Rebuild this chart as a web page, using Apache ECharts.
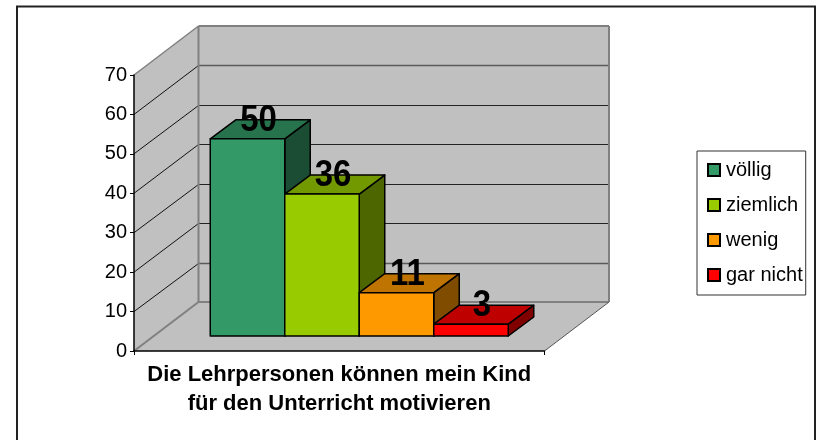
<!DOCTYPE html>
<html><head><meta charset="utf-8">
<style>html,body{margin:0;padding:0;background:#fff}#c{width:819px;height:440px}</style>
<script src="https://cdn.jsdelivr.net/npm/echarts@6/dist/echarts.min.js"></script>
</head><body><div id="c"></div>
<script>
const categories = ['Die Lehrpersonen können mein Kind\nfür den Unterricht motivieren'];
const seriesNames = ['völlig', 'ziemlich', 'wenig', 'gar nicht'];
const seriesValues = [50, 36, 11, 3];
const faceColors = ['#339966', '#99CC00', '#FF9900', '#FF0000'];
const topColors = ['#26734D', '#739900', '#BF7300', '#BF0000'];
const sideColors = ['#1A4D33', '#4D6600', '#804D00', '#800000'];
const yTicks = [10, 20, 30, 40, 50, 60];
const softTicks = [10, 60];

const FONT = '"Liberation Sans", Arial, sans-serif';
const WALL_DX = 64.5, WALL_DY = -49;
const BAR_W = 74.5, BAR_SHIFT_X = 20, BAR_SHIFT_Y = -15, BAR_DX = 25.5, BAR_DY = -19;

const chart = echarts.init(document.getElementById('c'), null, {renderer: 'canvas'});

function wallItem(params, api) {
  const cs = params.coordSys;
  const l = cs.x, r = cs.x + cs.width, t = cs.y, b = cs.y + cs.height;
  const poly = (pts, fill, stroke, w) => ({type: 'polygon', shape: {points: pts},
    style: {fill: fill, stroke: stroke || null, lineWidth: w || 0}});
  const line = (a, c, col, w) => ({type: 'line', shape: {x1: a[0], y1: a[1], x2: c[0], y2: c[1]},
    style: {stroke: col, lineWidth: w, fill: null}});
  const ch = [
    poly([[l, t], [l + WALL_DX, t + WALL_DY], [l + WALL_DX, b + WALL_DY], [l, b]], '#C0C0C0'),
    poly([[l + WALL_DX, t + WALL_DY], [r + WALL_DX, t + WALL_DY], [r + WALL_DX, b + WALL_DY], [l + WALL_DX, b + WALL_DY]], '#C0C0C0'),
    poly([[l, b], [l + WALL_DX, b + WALL_DY], [r + WALL_DX, b + WALL_DY], [r, b]], '#C0C0C0')
  ];
  yTicks.forEach(v => {
    const y = api.coord([0, v])[1];
    const by = Math.round(y + WALL_DY) + 0.5;
    const soft = softTicks.indexOf(v) >= 0;
    ch.push(line([l, y], [l + WALL_DX, by], '#111', 1));
    ch.push(line([l + WALL_DX, by], [r + WALL_DX, by], soft ? '#5a5a5a' : '#222', soft ? 1.6 : 1));
  });
  ch.push(line([l, t], [l + WALL_DX, t + WALL_DY], '#808080', 1.5));
  ch.push(line([l + WALL_DX, t + WALL_DY], [r + WALL_DX, t + WALL_DY], '#808080', 2));
  ch.push(line([l + WALL_DX, t + WALL_DY], [l + WALL_DX, b + WALL_DY], '#808080', 2));
  ch.push(line([r + WALL_DX, t + WALL_DY], [r + WALL_DX, b + WALL_DY], '#808080', 2));
  ch.push(line([l + WALL_DX, b + WALL_DY], [r + WALL_DX, b + WALL_DY], '#808080', 2));
  ch.push(line([l, b], [l + WALL_DX, b + WALL_DY], '#808080', 2));
  ch.push(line([r, b], [r + WALL_DX, b + WALL_DY], '#555', 1));
  return {type: 'group', children: ch};
}

function barRenderer(i) {
  return function (params, api) {
    const top = api.coord([0, api.value(1)]);
    const base = api.coord([0, 0]);
    const x0 = top[0] + BAR_SHIFT_X + (i - seriesNames.length / 2) * BAR_W;
    const x1 = x0 + BAR_W;
    const yt = top[1] + BAR_SHIFT_Y, yb = base[1] + BAR_SHIFT_Y;
    const edge = {stroke: '#000', lineWidth: 1.5, lineJoin: 'round'};
    const poly = (pts, fill) => ({type: 'polygon', shape: {points: pts}, style: Object.assign({fill: fill}, edge)});
    return {type: 'group', children: [
      poly([[x1, yt], [x1 + BAR_DX, yt + BAR_DY], [x1 + BAR_DX, yb + BAR_DY], [x1, yb]], sideColors[i]),
      poly([[x0, yt], [x0 + BAR_DX, yt + BAR_DY], [x1 + BAR_DX, yt + BAR_DY], [x1, yt]], topColors[i]),
      poly([[x0, yt], [x1, yt], [x1, yb], [x0, yb]], faceColors[i]),
      {type: 'text', z2: 50, x: (x0 + x1) / 2 + 11, y: yt - 18, scaleY: 1.12,
        style: {text: String(api.value(1)), x: 0, y: 0,
        align: 'center', verticalAlign: 'middle', fill: '#000',
        font: 'bold 33px ' + FONT}}
    ]};
  };
}

chart.setOption({
  animation: false,
  backgroundColor: '#fff',
  graphic: [{type: 'rect', z: -1, shape: {x: 17, y: 6.5, width: 798, height: 450},
    style: {fill: '#fff', stroke: '#222', lineWidth: 2}}],
  grid: {left: 134, top: 75, width: 410.5, height: 276, containLabel: false},
  xAxis: {type: 'category', data: categories, z: 5,
    axisLine: {lineStyle: {color: '#000', width: 1.5}},
    axisTick: {show: true, length: 4, lineStyle: {color: '#000', width: 1}},
    axisLabel: {fontFamily: FONT, fontWeight: 'bold', fontSize: 22, color: '#000', lineHeight: 29, margin: 9, align: 'center'},
    splitLine: {show: false}},
  yAxis: {type: 'value', min: 0, max: 70, interval: 10, z: 5,
    axisLine: {show: true, lineStyle: {color: '#000', width: 1.5}},
    axisTick: {show: true, length: 4, lineStyle: {color: '#000', width: 1}},
    axisLabel: {fontFamily: FONT, fontSize: 20, color: '#000', margin: 7},
    splitLine: {show: false}},
  legend: {orient: 'vertical', left: 697, top: 151, data: seriesNames, icon: 'rect',
    itemWidth: 12, itemHeight: 12, itemGap: 15,
    padding: [9, 3, 10, 10], backgroundColor: '#fff', borderColor: '#333', borderWidth: 1, borderRadius: 0,
    textStyle: {fontFamily: FONT, fontSize: 20, color: '#000', lineHeight: 20, padding: [0, 0, 0, 1]},
    selectedMode: false},
  tooltip: {show: false},
  series: [
    {type: 'custom', name: 'Wände', silent: true, renderItem: wallItem, data: [[0, 0]], encode: {x: 0, y: 1}, clip: false}
  ].concat(seriesNames.map((n, i) => ({
    type: 'custom', name: n, renderItem: barRenderer(i), data: [[0, seriesValues[i]]],
    encode: {x: 0, y: 1}, clip: false,
    itemStyle: {color: faceColors[i], borderColor: '#000', borderWidth: 1.5}
  })))
});
</script></body></html>
